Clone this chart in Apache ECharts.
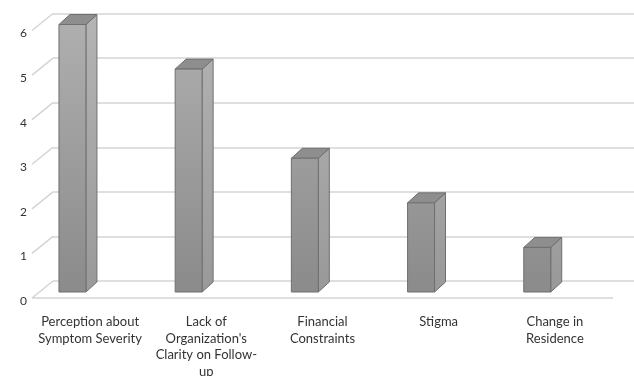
<!DOCTYPE html>
<html>
<head>
<meta charset="utf-8">
<script src="https://cdn.jsdelivr.net/npm/echarts@6/dist/echarts.min.js"></script>
<style>html,body{margin:0;padding:0;background:#fff}#c{width:634px;height:376px}</style>
</head>
<body>
<div id="c"></div>
<script>
const categories = ["Perception about\nSymptom Severity", "Lack of\nOrganization's\nClarity on Follow-\nup", "Financial\nConstraints", "Stigma", "Change in\nResidence"];
const values = [6, 5, 3, 2, 1];
const yTicks = [0, 1, 2, 3, 4, 5, 6];
const yTickLabels = ['0', '1', '2', '3', '4', '5', '6'];

const FONT = 'Lato';
const chart = echarts.init(document.getElementById('c'), null, {renderer: 'canvas'});

// 3D depth of the floor/wall and of the bars (pixels)
const WALL_DX = 21, WALL_DY = 17;
const BAR_DX = 11, BAR_DY = 10;

function barItem(params, api) {
  const i = api.value(0), v = api.value(1);
  const top = api.coord([i, v]);
  const base = api.coord([i, 0]);
  const bw = api.size([1, 0])[0];
  const cx = top[0];
  const bl = cx - 0.354 * bw, br = bl + 0.232 * bw;
  const bt = top[1] + 1, bb = base[1] + 1;
  const fl = bl - BAR_DX, fr = br - BAR_DX;
  const ft = bt + BAR_DY, fb = bb + BAR_DY;
  const cs = params.coordSys;
  const grad = (c1, c2) => new echarts.graphic.LinearGradient(0, cs.y, 0, cs.y + cs.height, [
    {offset: 0, color: c1}, {offset: 1, color: c2}], true);
  const stroke = {stroke: '#6f6f6f', lineWidth: 1, lineJoin: 'round'};
  return {
    type: 'group',
    children: [
      {type: 'polygon', shape: {points: [[fr, ft], [br, bt], [br, bb], [fr, fb]]},
        style: Object.assign({fill: grad('#b4b4b4', '#9a9a9a')}, stroke)},
      {type: 'polygon', shape: {points: [[fl, ft], [bl, bt], [br, bt], [fr, ft]]},
        style: Object.assign({fill: '#8e8e8e'}, stroke)},
      {type: 'polygon', shape: {points: [[fl, ft], [fr, ft], [fr, fb], [fl, fb]]},
        style: Object.assign({fill: grad('#b0b0b0', '#8c8c8c')}, stroke)}
    ]
  };
}

function wallItem(params, api) {
  const v = api.value(0);
  const cs = params.coordSys;
  const p = api.coord([0, v]);
  const x0 = cs.x, y = p[1];
  const children = [
    {type: 'line', shape: {x1: x0, y1: y, x2: x0 - WALL_DX, y2: y + WALL_DY},
      style: {stroke: '#d4d4d4', lineWidth: 1.5}},
    {type: 'text', x: x0 - WALL_DX - 5, y: y + 20,
      style: {text: yTickLabels[params.dataIndex], fill: '#333', font: '12px ' + FONT,
        align: 'right', verticalAlign: 'middle'}}
  ];
  if (v === 0) {
    children.push({type: 'line', shape: {x1: x0 - WALL_DX, y1: y + WALL_DY, x2: cs.x + cs.width - WALL_DX, y2: y + WALL_DY},
      style: {stroke: '#d4d4d4', lineWidth: 1.5}});
  }
  return {type: 'group', children};
}

chart.setOption({
  animation: false,
  backgroundColor: '#ffffff',
  grid: {left: 53, right: 0, top: 13.5, bottom: 95, containLabel: false, outerBoundsMode: 'none'},
  xAxis: {
    type: 'category',
    data: categories,
    boundaryGap: true,
    axisLine: {show: false},
    axisTick: {show: false},
    splitLine: {show: false},
    axisLabel: {
      interval: 0,
      margin: 33,
      color: '#333',
      fontFamily: FONT,
      fontSize: 13,
      lineHeight: 16.5,
      padding: [0, 2 * WALL_DX, 0, 0]
    }
  },
  yAxis: {
    type: 'value',
    min: 0, max: 6, interval: 1,
    axisLine: {show: false},
    axisTick: {show: false},
    splitLine: {show: true, lineStyle: {color: '#d4d4d4', width: 1.5}},
    axisLabel: {show: false}
  },
  series: [
    {
      type: 'custom',
      renderItem: wallItem,
      data: yTicks.map(t => [t]),
      encode: {y: 0},
      silent: true,
      z: 1
    },
    {
      type: 'custom',
      renderItem: barItem,
      data: values.map((v, i) => [i, v]),
      encode: {x: 0, y: 1},
      z: 5
    }
  ]
});
</script>
</body>
</html>
